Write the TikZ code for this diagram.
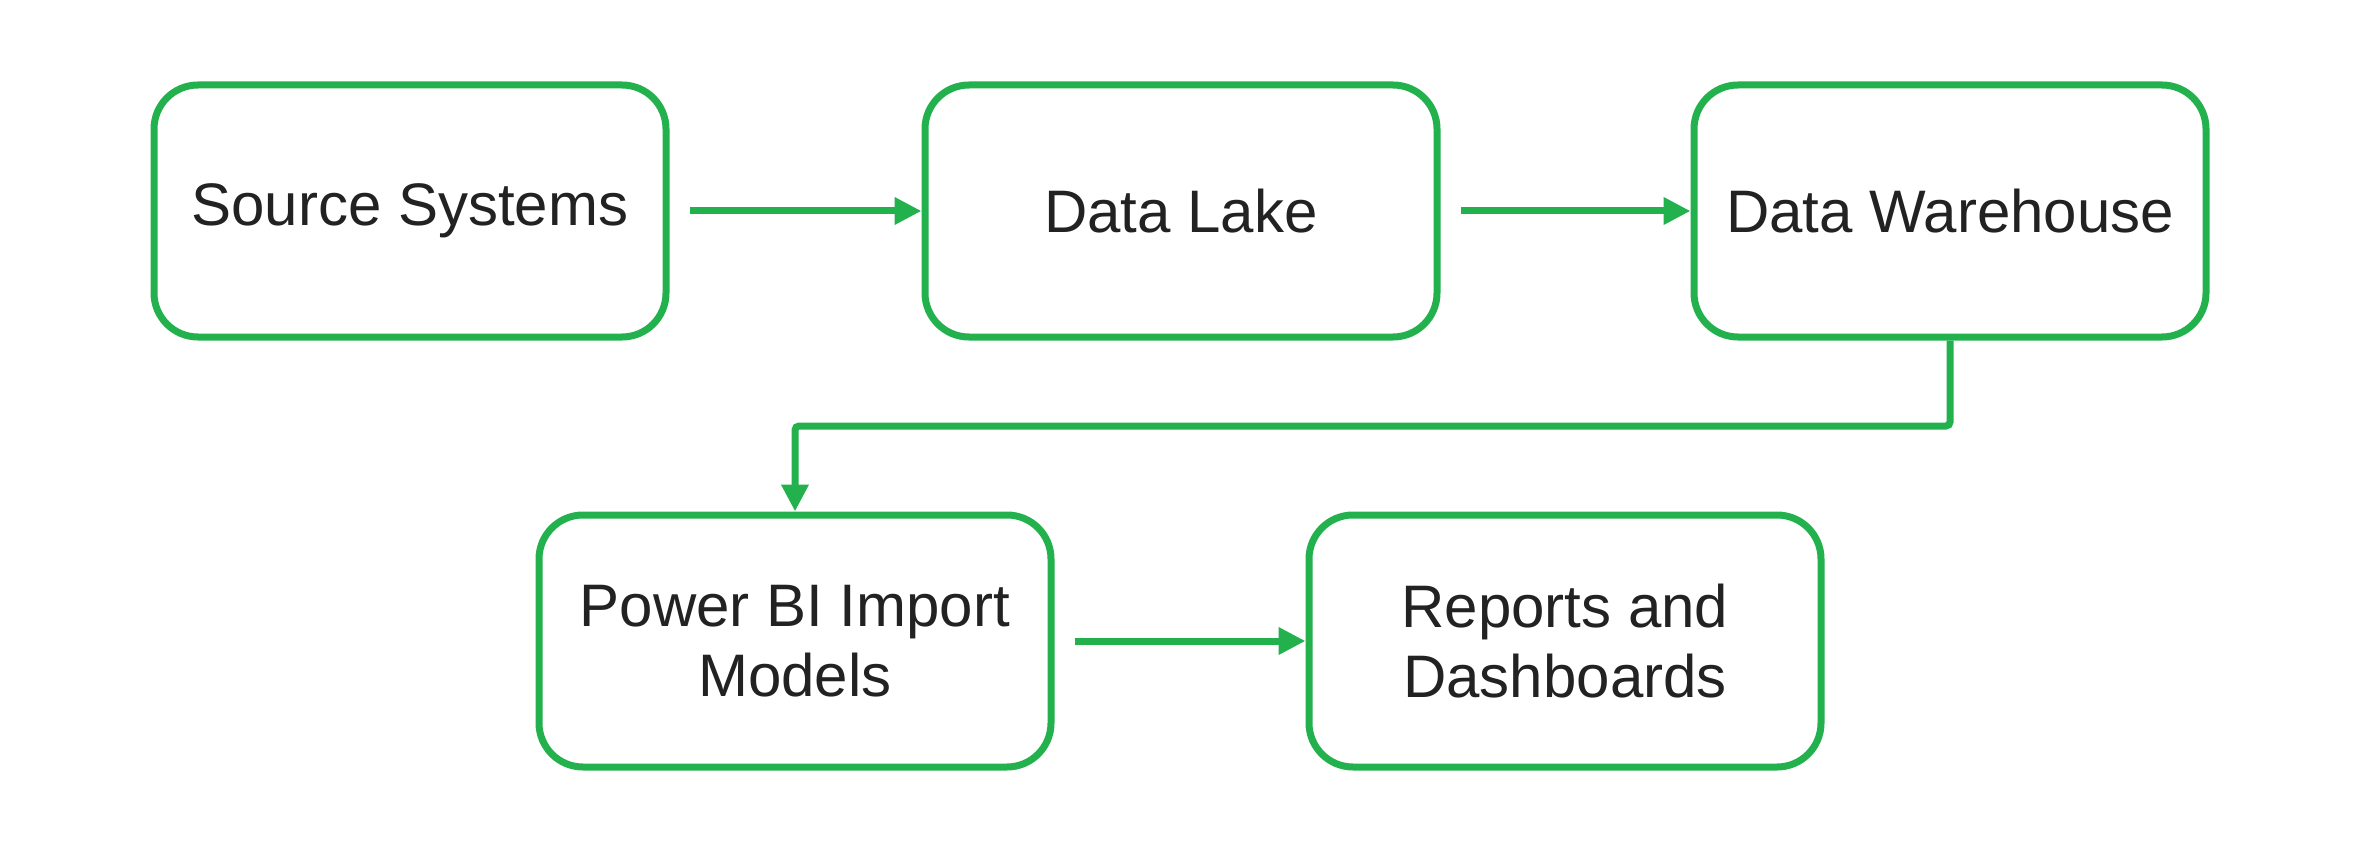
\documentclass[tikz,border=0pt]{standalone}
\usepackage{fontspec}
\setmainfont{Liberation Sans}
\usetikzlibrary{arrows.meta}
\definecolor{boxgreen}{RGB}{34,177,76}
\definecolor{txt}{RGB}{34,34,34}
\begin{document}
\begin{tikzpicture}[x=1pt,y=-1pt,
  box/.style={draw=boxgreen, line width=7pt, rounded corners=44pt, fill=white,
    minimum width=512pt, minimum height=252pt, align=center, text=txt,
    font=\fontsize{60}{70}\selectfont, inner sep=0pt},
  link/.style={draw=boxgreen, line width=7pt, -{Triangle[length=27pt,width=26pt]}}]
\useasboundingbox (0,0) rectangle (2360,850);
\node[box] (src) at (410,211) {Source Systems};
\node[box] (lake) at (1181,211) {Data Lake};
\node[box] (dw) at (1950,211) {Data Warehouse};
\node[box] (pbi) at (795,641) {Power BI Import\\Models};
\node[box] (rep) at (1565,641) {Reports and\\Dashboards};
\draw[link] ([xshift=20pt]src.east) -- (lake.west);
\draw[link] ([xshift=20pt]lake.east) -- (dw.west);
\draw[link] ([xshift=20pt]pbi.east) -- (rep.west);
\draw[link, rounded corners=4pt] (dw.south) |- (pbi.north |- 0,426) -- (pbi.north);
\end{tikzpicture}
\end{document}
